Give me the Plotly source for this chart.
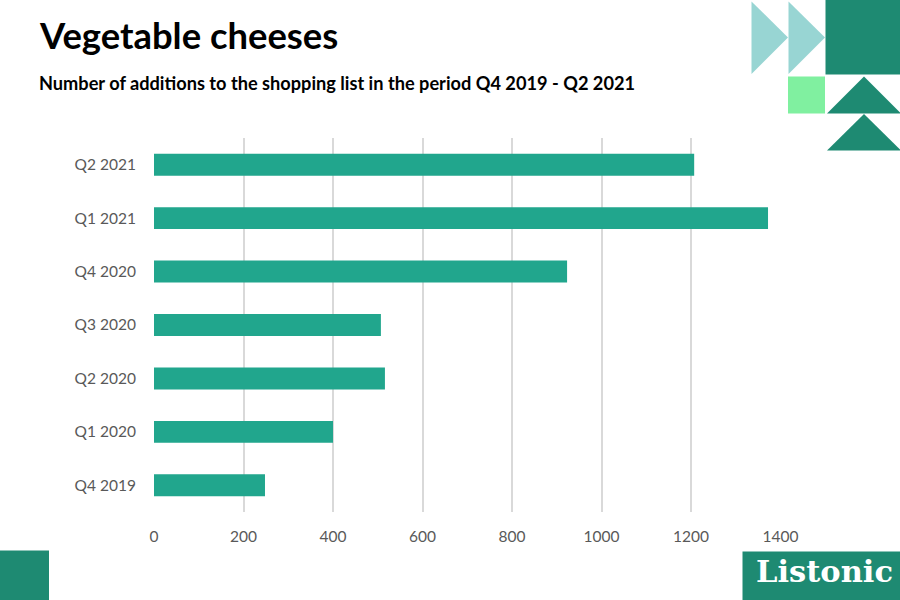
import plotly.graph_objects as go

categories = ["Q4 2019", "Q1 2020", "Q2 2020", "Q3 2020", "Q4 2020", "Q1 2021", "Q2 2021"]
values = [248, 400, 516, 507, 923, 1372, 1207]
x_ticks = [0, 200, 400, 600, 800, 1000, 1200, 1400]

W, H = 900, 600
BAR = "#21a68d"
DARK = "#1e8a72"
LIGHT = "#98d5d3"
GREEN = "#80f0a0"

def px(x):
    return x / W

def py(y):
    return 1 - y / H

fig = go.Figure(go.Bar(
    x=values, y=categories, orientation="h",
    marker=dict(color=BAR, line=dict(width=0)),
    width=0.41, hoverinfo="x+y",
))

shapes = []
def poly(points, color):
    path = "M " + " L ".join(f"{px(x):.5f},{py(y):.5f}" for x, y in points) + " Z"
    shapes.append(dict(type="path", path=path, xref="paper", yref="paper",
                       fillcolor=color, line=dict(width=0), layer="above"))

def rect(x0, y0, x1, y1, color):
    shapes.append(dict(type="rect", xref="paper", yref="paper",
                       x0=px(x0), x1=px(x1), y0=py(y1), y1=py(y0),
                       fillcolor=color, line=dict(width=0), layer="above"))

poly([(751.5, 1.5), (788, 37.5), (751.5, 74)], LIGHT)
poly([(788.5, 1.5), (825, 37.5), (788.5, 74)], LIGHT)
rect(825.5, 0, 900, 74.5, DARK)
rect(788, 76.5, 825, 113.5, GREEN)
poly([(827, 113.5), (864, 76.5), (901, 113.5)], DARK)
poly([(827, 150.5), (864, 114), (901, 150.5)], DARK)
rect(0, 550.5, 49, 600, DARK)
rect(742.5, 551.5, 900, 600, DARK)

annotations = [
    dict(text="<b>Vegetable cheeses</b>", x=px(37), y=py(59), xref="paper", yref="paper",
         xanchor="left", yanchor="bottom", showarrow=False,
         font=dict(family="Lato", size=36.4, color="#000000")),
    dict(text="<b>Number of additions to the shopping list in the period Q4 2019 - Q2 2021</b>",
         x=px(37), y=py(96), xref="paper", yref="paper",
         xanchor="left", yanchor="bottom", showarrow=False,
         font=dict(family="Lato", size=18.2, color="#000000")),
    dict(text="<b>Listonic</b>", x=px(824), y=py(571), xref="paper", yref="paper",
         xanchor="center", yanchor="middle", showarrow=False,
         font=dict(family="DejaVu Serif", size=30.5, color="#ffffff")),
]

fig.update_layout(
    width=W, height=H,
    margin=dict(l=0, r=0, t=0, b=0, pad=0, autoexpand=False),
    paper_bgcolor="white", plot_bgcolor="white",
    showlegend=False,
    shapes=shapes, annotations=annotations,
    xaxis=dict(domain=[px(154), px(781)], range=[0, 1401], tickvals=x_ticks,
               showgrid=True, gridcolor="#d9d9d9", gridwidth=2,
               zeroline=False, showline=False, automargin=False,
               ticks="outside", ticklen=10, tickcolor="rgba(0,0,0,0)",
               tickfont=dict(family="Lato", size=15.5, color="#595959")),
    yaxis=dict(domain=[py(512), py(138)], categoryorder="array", categoryarray=categories,
               range=[-0.5, 6.5], showgrid=False, zeroline=False, showline=False, automargin=False,
               ticks="outside", ticklen=14, tickcolor="rgba(0,0,0,0)",
               tickfont=dict(family="Lato", size=15.5, color="#595959")),
)

fig.write_html("out.html")
